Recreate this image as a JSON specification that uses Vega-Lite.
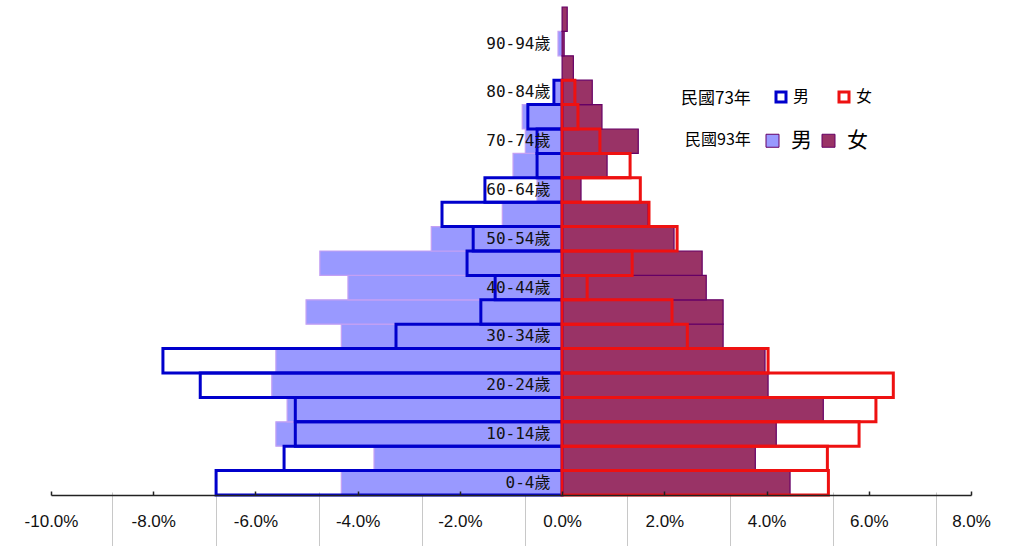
{
  "$schema": "https://vega.github.io/schema/vega-lite/v6.json",
  "width": 920,
  "height": 488,
  "autosize": {"type": "none"},
  "padding": {"left": 51, "top": 7, "right": 61, "bottom": 51},
  "background": "white",
  "config": {"view": {"stroke": null}, "axis": {"grid": false}},
  "data": {
    "values": [
      {"age": "0-4歲", "year": "民國73年", "sex": "男", "value": -6.77},
      {"age": "5-9歲", "year": "民國73年", "sex": "男", "value": -5.44},
      {"age": "10-14歲", "year": "民國73年", "sex": "男", "value": -5.22},
      {"age": "15-19歲", "year": "民國73年", "sex": "男", "value": -5.22},
      {"age": "20-24歲", "year": "民國73年", "sex": "男", "value": -7.08},
      {"age": "25-29歲", "year": "民國73年", "sex": "男", "value": -7.81},
      {"age": "30-34歲", "year": "民國73年", "sex": "男", "value": -3.25},
      {"age": "35-39歲", "year": "民國73年", "sex": "男", "value": -1.59},
      {"age": "40-44歲", "year": "民國73年", "sex": "男", "value": -1.31},
      {"age": "45-49歲", "year": "民國73年", "sex": "男", "value": -1.86},
      {"age": "50-54歲", "year": "民國73年", "sex": "男", "value": -1.74},
      {"age": "55-59歲", "year": "民國73年", "sex": "男", "value": -2.35},
      {"age": "60-64歲", "year": "民國73年", "sex": "男", "value": -1.51},
      {"age": "65-69歲", "year": "民國73年", "sex": "男", "value": -0.49},
      {"age": "70-74歲", "year": "民國73年", "sex": "男", "value": -0.49},
      {"age": "75-79歲", "year": "民國73年", "sex": "男", "value": -0.67},
      {"age": "80-84歲", "year": "民國73年", "sex": "男", "value": -0.16},
      {"age": "0-4歲", "year": "民國73年", "sex": "女", "value": 5.21},
      {"age": "5-9歲", "year": "民國73年", "sex": "女", "value": 5.19},
      {"age": "10-14歲", "year": "民國73年", "sex": "女", "value": 5.81},
      {"age": "15-19歲", "year": "民國73年", "sex": "女", "value": 6.14},
      {"age": "20-24歲", "year": "民國73年", "sex": "女", "value": 6.48},
      {"age": "25-29歲", "year": "民國73年", "sex": "女", "value": 4.03},
      {"age": "30-34歲", "year": "民國73年", "sex": "女", "value": 2.45},
      {"age": "35-39歲", "year": "民國73年", "sex": "女", "value": 2.15},
      {"age": "40-44歲", "year": "民國73年", "sex": "女", "value": 0.49},
      {"age": "45-49歲", "year": "民國73年", "sex": "女", "value": 1.37},
      {"age": "50-54歲", "year": "民國73年", "sex": "女", "value": 2.25},
      {"age": "55-59歲", "year": "民國73年", "sex": "女", "value": 1.7},
      {"age": "60-64歲", "year": "民國73年", "sex": "女", "value": 1.53},
      {"age": "65-69歲", "year": "民國73年", "sex": "女", "value": 1.33},
      {"age": "70-74歲", "year": "民國73年", "sex": "女", "value": 0.74},
      {"age": "75-79歲", "year": "民國73年", "sex": "女", "value": 0.31},
      {"age": "80-84歲", "year": "民國73年", "sex": "女", "value": 0.25},
      {"age": "0-4歲", "year": "民國93年", "sex": "男", "value": -4.32},
      {"age": "5-9歲", "year": "民國93年", "sex": "男", "value": -3.68},
      {"age": "10-14歲", "year": "民國93年", "sex": "男", "value": -5.6},
      {"age": "15-19歲", "year": "民國93年", "sex": "男", "value": -5.38},
      {"age": "20-24歲", "year": "民國93年", "sex": "男", "value": -5.68},
      {"age": "25-29歲", "year": "民國93年", "sex": "男", "value": -5.6},
      {"age": "30-34歲", "year": "民國93年", "sex": "男", "value": -4.32},
      {"age": "35-39歲", "year": "民國93年", "sex": "男", "value": -5.01},
      {"age": "40-44歲", "year": "民國93年", "sex": "男", "value": -4.19},
      {"age": "45-49歲", "year": "民國93年", "sex": "男", "value": -4.74},
      {"age": "50-54歲", "year": "民國93年", "sex": "男", "value": -2.56},
      {"age": "55-59歲", "year": "民國93年", "sex": "男", "value": -1.17},
      {"age": "60-64歲", "year": "民國93年", "sex": "男", "value": -0.49},
      {"age": "65-69歲", "year": "民國93年", "sex": "男", "value": -0.96},
      {"age": "70-74歲", "year": "民國93年", "sex": "男", "value": -0.72},
      {"age": "75-79歲", "year": "民國93年", "sex": "男", "value": -0.78},
      {"age": "80-84歲", "year": "民國93年", "sex": "男", "value": -0.14},
      {"age": "90-94歲", "year": "民國93年", "sex": "男", "value": -0.08},
      {"age": "0-4歲", "year": "民國93年", "sex": "女", "value": 4.46},
      {"age": "5-9歲", "year": "民國93年", "sex": "女", "value": 3.78},
      {"age": "10-14歲", "year": "民國93年", "sex": "女", "value": 4.19},
      {"age": "15-19歲", "year": "民國93年", "sex": "女", "value": 5.11},
      {"age": "20-24歲", "year": "民國93年", "sex": "女", "value": 4.03},
      {"age": "25-29歲", "year": "民國93年", "sex": "女", "value": 3.97},
      {"age": "30-34歲", "year": "民國93年", "sex": "女", "value": 3.15},
      {"age": "35-39歲", "year": "民國93年", "sex": "女", "value": 3.15},
      {"age": "40-44歲", "year": "民國93年", "sex": "女", "value": 2.82},
      {"age": "45-49歲", "year": "民國93年", "sex": "女", "value": 2.74},
      {"age": "50-54歲", "year": "民國93年", "sex": "女", "value": 2.19},
      {"age": "55-59歲", "year": "民國93年", "sex": "女", "value": 1.68},
      {"age": "60-64歲", "year": "民國93年", "sex": "女", "value": 0.37},
      {"age": "65-69歲", "year": "民國93年", "sex": "女", "value": 0.88},
      {"age": "70-74歲", "year": "民國93年", "sex": "女", "value": 1.49},
      {"age": "75-79歲", "year": "民國93年", "sex": "女", "value": 0.78},
      {"age": "80-84歲", "year": "民國93年", "sex": "女", "value": 0.59},
      {"age": "85-89歲", "year": "民國93年", "sex": "女", "value": 0.22},
      {"age": "90-94歲", "year": "民國93年", "sex": "女", "value": 0.04},
      {"age": "95歲以上", "year": "民國93年", "sex": "女", "value": 0.1}
    ]
  },
  "encoding": {
    "y": {
      "field": "age",
      "type": "nominal",
      "sort": ["95歲以上", "90-94歲", "85-89歲", "80-84歲", "75-79歲", "70-74歲", "65-69歲", "60-64歲", "55-59歲", "50-54歲", "45-49歲", "40-44歲", "35-39歲", "30-34歲", "25-29歲", "20-24歲", "15-19歲", "10-14歲", "5-9歲", "0-4歲"],
      "scale": {"paddingInner": 0, "paddingOuter": 0},
      "axis": {
        "orient": "left",
        "title": null,
        "values": ["0-4歲", "10-14歲", "20-24歲", "30-34歲", "40-44歲", "50-54歲", "60-64歲", "70-74歲", "80-84歲", "90-94歲"],
        "offset": -511,
        "domain": false,
        "ticks": false,
        "labelPadding": 12,
        "labelFont": "DejaVu Sans Mono, Noto Sans CJK TC",
        "labelFontSize": 16,
        "labelColor": "#111111",
        "zindex": 2
      }
    }
  },
  "layer": [
    {
      "transform": [{"filter": "datum.year == '民國93年'"}],
      "mark": {"type": "bar", "strokeWidth": 1.2},
      "encoding": {
        "x": {
          "field": "value",
          "type": "quantitative",
          "scale": {"domain": [-10, 8], "nice": false},
          "axis": {
            "orient": "bottom",
            "title": null,
            "values": [-10, -8, -6, -4, -2, 0, 2, 4, 6, 8],
            "labelExpr": "(datum.value < 0 ? '-' : '') + format(abs(datum.value), '.1f') + '%'",
            "domainColor": "#222222",
            "domainWidth": 1.5,
            "tickColor": "#222222",
            "tickWidth": 1.5,
            "tickSize": -4,
            "labelPadding": 22,
            "labelFont": "Liberation Sans",
            "labelFontSize": 17,
            "labelColor": "#111111",
            "labelFlush": false,
            "labelOverlap": false,
            "zindex": 1
          }
        },
        "fill": {
          "field": "sex",
          "type": "nominal",
          "sort": ["男", "女"],
          "scale": {"range": ["#9999FF", "#993366"]},
          "legend": {
            "title": "民國93年",
            "orient": "none",
            "legendX": 634,
            "legendY": 123,
            "direction": "horizontal",
            "titleOrient": "left",
            "titleFont": "Noto Sans CJK TC",
            "titleFontSize": 16,
            "titleFontWeight": "normal",
            "titleColor": "#000000",
            "titlePadding": 11,
            "labelFont": "Noto Sans CJK TC",
            "labelFontSize": 21,
            "labelColor": "#000000",
            "labelOffset": 8,
            "columnPadding": 6,
            "symbolType": "square",
            "symbolSize": 169,
            "symbolStrokeWidth": 1,
            "padding": 0
          }
        },
        "stroke": {
          "condition": {"test": "datum.sex == '男'", "value": "#C4A0F4"},
          "value": "#660066"
        }
      }
    },
    {
      "transform": [{"filter": "datum.year == '民國73年'"}],
      "mark": {"type": "bar", "fill": "transparent", "strokeWidth": 3},
      "encoding": {
        "x": {
          "field": "value",
          "type": "quantitative",
          "scale": {"domain": [-10, 8], "nice": false},
          "axis": {
            "orient": "bottom",
            "title": null,
            "values": [-10.84, -8.8, -6.77, -4.75, -2.75, -0.73, 1.27, 3.29, 5.3, 7.32],
            "labels": false,
            "domain": false,
            "ticks": true,
            "tickSize": 54,
            "tickColor": "#c8c8c8",
            "tickWidth": 1,
            "offset": -3,
            "zindex": 0
          }
        },
        "stroke": {
          "field": "sex",
          "type": "nominal",
          "sort": ["男", "女"],
          "scale": {"range": ["#0000CC", "#EE1111"]},
          "legend": {
            "title": "民國73年",
            "orient": "none",
            "legendX": 630,
            "legendY": 82,
            "direction": "horizontal",
            "titleOrient": "left",
            "titleFont": "Noto Sans CJK TC",
            "titleFontSize": 17,
            "titleFontWeight": "normal",
            "titleColor": "#000000",
            "titlePadding": 22,
            "labelFont": "Noto Sans CJK TC",
            "labelFontSize": 16,
            "labelColor": "#000000",
            "labelOffset": 4,
            "columnPadding": 23,
            "symbolType": "square",
            "symbolSize": 100,
            "symbolStrokeWidth": 3,
            "symbolFillColor": "#ffffff",
            "padding": 0
          }
        }
      }
    }
  ],
  "resolve": {"axis": {"x": "independent"}}
}
